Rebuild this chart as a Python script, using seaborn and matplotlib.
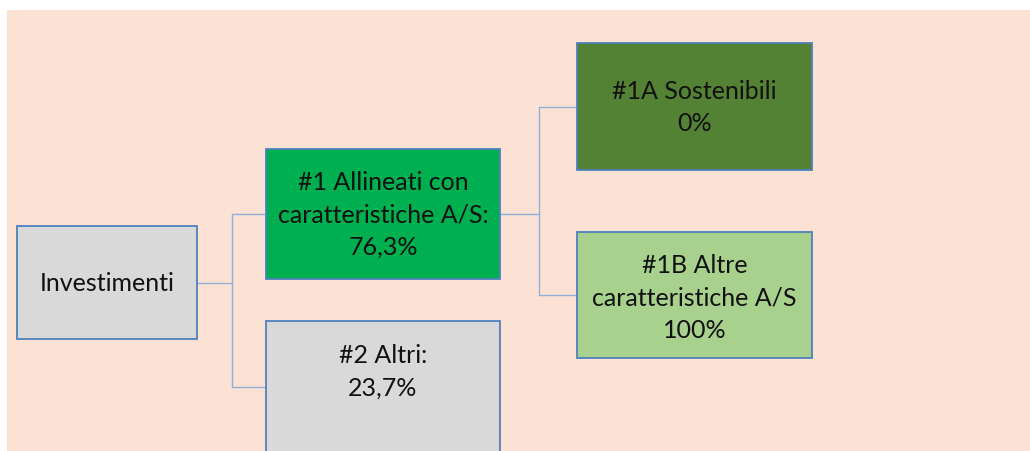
import matplotlib
matplotlib.use('Agg')
import matplotlib.pyplot as plt
import seaborn as sns

sns.set_style('white')
plt.rcParams['font.family'] = ['Lato', 'DejaVu Sans']

# node data
nodes = ['inv', 'n1', 'n2', 'n1a', 'n1b']
labels = ['Investimenti',
          '#1 Allineati con\ncaratteristiche A/S:\n76,3%',
          '#2 Altri:\n23,7%',
          '#1A Sostenibili\n0%',
          '#1B Altre\ncaratteristiche A/S\n100%']
fills = ['#D9D9D9', '#00B050', '#D9D9D9', '#548235', '#A9D18E']
# tree edges (parent -> children)
tree = {'inv': ['n1', 'n2'], 'n1': ['n1a', 'n1b']}

# layout in pixel units: x0, y0, width, height
layout = {
    'inv': (17, 227, 180, 113),
    'n1': (266, 150, 234, 130),
    'n2': (266, 322, 234, 140),
    'n1a': (577, 44, 235, 127),
    'n1b': (577, 233, 235, 126),
}
# vertical offset of the label from the box centre
text_off = {'n2': -20, 'n1b': 2}

fig = plt.figure(figsize=(10.3, 4.52), dpi=100)
ax = fig.add_axes([0, 0, 1, 1])
ax.set_xlim(0, 1030)
ax.set_ylim(452, 0)
ax.axis('off')

# background panel
ax.bar(7, 452 - 11, width=1030 - 7, bottom=11, align='edge',
       color='#FBE2D5', linewidth=0, zorder=0)

edge_col = '#4F81BD'
line_col = '#8EB0DA'

# connectors
for parent, kids in tree.items():
    px, py, pw, ph = layout[parent]
    start_x = px + pw
    mid_y = py + ph / 2
    kid_x = layout[kids[0]][0]
    elbow = start_x + (kid_x - start_x) * 0.5
    ax.plot([start_x, elbow], [mid_y, mid_y], color=line_col, lw=1, zorder=1)
    ys = []
    for k in kids:
        kx, ky, kw, kh = layout[k]
        ky_mid = ky + 66 if k == 'n2' else ky + kh / 2
        ys.append(ky_mid)
        ax.plot([elbow, kx], [ky_mid, ky_mid], color=line_col, lw=1, zorder=1)
    ax.plot([elbow, elbow], [min(ys), max(ys)], color=line_col, lw=1, zorder=1)

# boxes
for name, lab, fc in zip(nodes, labels, fills):
    x0, y0, w, h = layout[name]
    ax.bar(x0, h, width=w, bottom=y0, align='edge', color=fc,
           edgecolor=edge_col, linewidth=1.3, zorder=2)
    ty = y0 + h / 2 + text_off.get(name, 0)
    ax.text(x0 + w / 2, ty, lab, ha='center', va='center', fontsize=18,
            color='#111111', linespacing=1.5, zorder=3)

fig.savefig('out.png', dpi=100)
